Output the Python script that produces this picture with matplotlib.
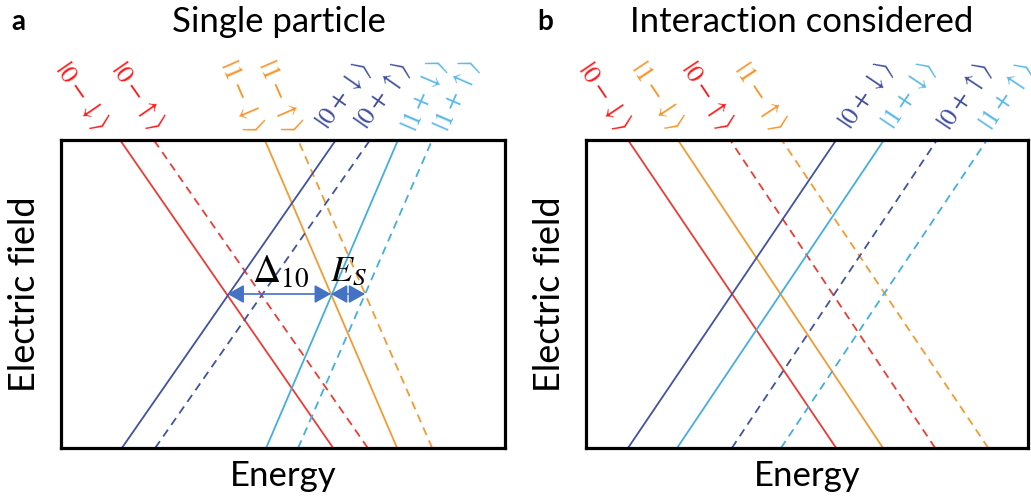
import numpy as np
import matplotlib.pyplot as plt

plt.rcParams['mathtext.fontset'] = 'stix'
plt.rcParams['font.family'] = ['Lato', 'DejaVu Sans']

# state labels (mathtext), energies at the top (field = 1) and bottom (field = 0)
states_a = [r'$|0-\downarrow\rangle$', r'$|0-\uparrow\rangle$', r'$|1-\downarrow\rangle$', r'$|1-\uparrow\rangle$',
            r'$|0+\downarrow\rangle$', r'$|0+\uparrow\rangle$', r'$|1+\downarrow\rangle$', r'$|1+\uparrow\rangle$']
kinds_a = ['0-', '0-', '1-', '1-', '0+', '0+', '1+', '1+']
spin_a = ['dn', 'up', 'dn', 'up', 'dn', 'up', 'dn', 'up']
e_top_a = [1.33, 2.09, 4.59, 5.34, 6.19, 6.96, 7.59, 8.36]
e_bot_a = [6.13, 6.91, 7.57, 8.36, 1.37, 2.12, 4.62, 5.34]
label_e_a = [0.47, 1.73, 4.05, 4.93, 6.37, 7.25, 8.20, 8.92]

states_b = [r'$|0-\downarrow\rangle$', r'$|1-\downarrow\rangle$', r'$|0-\uparrow\rangle$', r'$|1-\uparrow\rangle$',
            r'$|0+\downarrow\rangle$', r'$|1+\downarrow\rangle$', r'$|0+\uparrow\rangle$', r'$|1+\uparrow\rangle$']
kinds_b = ['0-', '1-', '0-', '1-', '0+', '1+', '0+', '1+']
spin_b = ['dn', 'dn', 'up', 'up', 'dn', 'dn', 'up', 'up']
e_top_b = [0.95, 2.08, 3.26, 4.43, 5.66, 6.74, 7.94, 9.07]
e_bot_b = [5.66, 6.72, 7.90, 9.10, 0.95, 2.06, 3.30, 4.41]
label_e_b = [0.41, 1.61, 2.74, 3.94, 6.33, 7.31, 8.57, 9.52]

# splittings marked in panel a (at field = 0.5)
delta_10 = [3.75, 6.08]
e_s = [6.08, 6.85]

line_colors = {'0-': '#EC3B34', '1-': '#F59A32', '0+': '#4152A1', '1+': '#43AEE2'}
text_colors = {'0-': '#FF1A1A', '1-': '#F7962A', '0+': '#3F4E9E', '1+': '#5BB9EA'}

fig = plt.figure(figsize=(10.31, 5.04), dpi=100)
ax_a = fig.add_axes([0.0592, 0.1111, 0.4306, 0.6111])
ax_b = fig.add_axes([0.5684, 0.1111, 0.4287, 0.6111])


def draw_panel(ax, states, kinds, spins, e_top, e_bot, label_e):
    ax.set_xlim(0, 10)
    ax.set_ylim(0, 1)
    ax.set_xticks([])
    ax.set_yticks([])
    for s in ax.spines.values():
        s.set_linewidth(2.3)
    for name, k, sp, et, eb, le in zip(states, kinds, spins, e_top, e_bot, label_e):
        ls = '-' if sp == 'dn' else (0, (4.6, 3.2))
        ax.plot([eb, et], [0, 1], color=line_colors[k], lw=1.3, ls=ls, solid_capstyle='butt')
        # rotate label along the line direction
        p0 = ax.transData.transform((eb, 0))
        p1 = ax.transData.transform((et, 1))
        ang = np.degrees(np.arctan2(p1[1] - p0[1], p1[0] - p0[0]))
        if ang > 90:
            ang -= 180
        ax.text(le, 1.143, name, color=text_colors[k], fontsize=19, rotation=ang,
                rotation_mode='anchor', ha='center', va='center', clip_on=False)
    ax.set_ylabel('Electric field', fontsize=26)
    ax.set_xlabel('Energy', fontsize=25)
    ax.yaxis.set_label_coords(-0.046, 0.5)
    ax.xaxis.set_label_coords(0.5, -0.04)


draw_panel(ax_a, states_a, kinds_a, spin_a, e_top_a, e_bot_a, label_e_a)
draw_panel(ax_b, states_b, kinds_b, spin_b, e_top_b, e_bot_b, label_e_b)

arrow = dict(arrowstyle='<|-|>,head_length=0.5,head_width=0.28', color='#4472C4',
             lw=1.2, shrinkA=0, shrinkB=0, mutation_scale=20)
ax_a.annotate('', xy=(delta_10[1], 0.5), xytext=(delta_10[0], 0.5), arrowprops=arrow)
ax_a.annotate('', xy=(e_s[1], 0.5), xytext=(e_s[0], 0.5), arrowprops=arrow)
ax_a.text(sum(delta_10) / 2 + 0.03, 0.54, r'$\Delta_{10}$', fontsize=28, ha='center', va='baseline')
ax_a.text(sum(e_s) / 2 + 0.02, 0.54, r'$E_S$', fontsize=26, ha='center', va='baseline')

fig.text(0.2706, 0.956, 'Single particle', fontsize=25, ha='center', va='center')
fig.text(0.7779, 0.956, 'Interaction considered', fontsize=25, ha='center', va='center')
fig.text(0.018, 0.956, 'a', fontsize=20, fontweight='bold', ha='center', va='center')
fig.text(0.529, 0.956, 'b', fontsize=20, fontweight='bold', ha='center', va='center')

fig.savefig('out.png', dpi=100)
